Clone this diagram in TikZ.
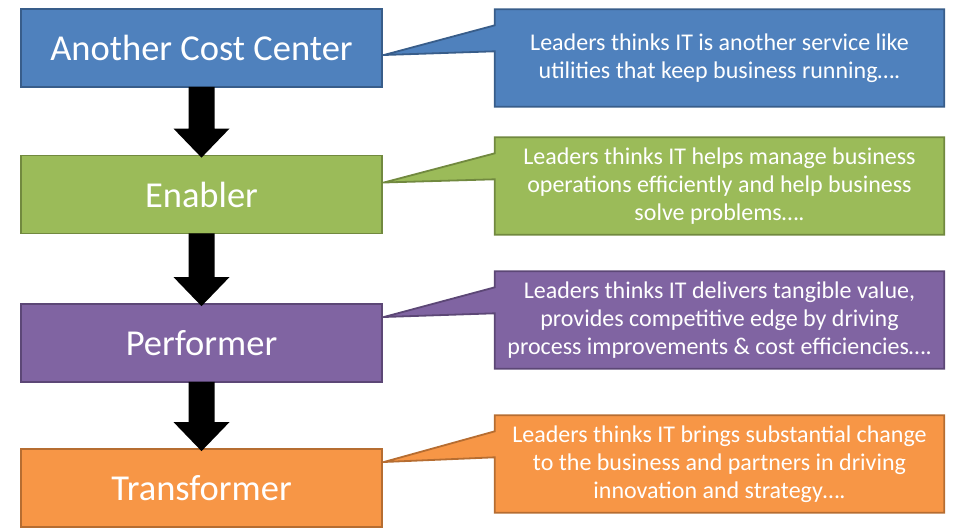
\documentclass[tikz,border=0pt]{standalone}
\usepackage{fontspec}
\setmainfont{Carlito}
\usetikzlibrary{calc,backgrounds}
\definecolor{cblue}{HTML}{4F81BD}\definecolor{dblue}{HTML}{385D8A}
\definecolor{cgreen}{HTML}{9BBB59}\definecolor{dgreen}{HTML}{71893F}
\definecolor{cpurple}{HTML}{8064A2}\definecolor{dpurple}{HTML}{5C4776}
\definecolor{corange}{HTML}{F79646}\definecolor{dorange}{HTML}{B66D31}
\tikzset{
  stage/.style={line width=1.8pt, minimum width=361pt, minimum height=78pt,
     inner sep=0pt, text=white, font=\fontsize{36.5}{40}\selectfont},
  callbody/.style={minimum width=449pt, minimum height=97pt, inner sep=0pt, text=white,
     align=center, font=\fontsize{24}{28}\selectfont},
  callshape/.style={line width=1.8pt, line join=miter},
  blockarrow/.style={fill=black},
}
\newcommand\stagearrow[2]{%
  \fill[blockarrow] ($(#1.south)+(-13,-1)$) -- ($(#2.north)+(-13,-26)$) -- ($(#2.north)+(-28,-26)$)
   -- ($(#2.north)+(0,3)$) -- ($(#2.north)+(28,-26)$) -- ($(#2.north)+(13,-26)$) -- ($(#1.south)+(13,-1)$) -- cycle;}
\newcommand\calloutfrom[4]{% callout node, stage node, tip offset, colours
  \begin{scope}[on background layer]
  \filldraw[callshape,#4] (#1.north west) -- (#1.north east) -- (#1.south east) -- (#1.south west)
    -- ($(#1.north west)+(0,42)$) -- ($(#2.east)+(1,#3)$) -- ($(#1.north west)+(0,16)$) -- cycle;
  \end{scope}}
\begin{document}
\begin{tikzpicture}[x=1pt,y=-1pt]
\useasboundingbox (0,0) rectangle (959,531);
\node[stage, fill=cblue, draw=dblue] (b1) at (201.5,48) {Another Cost Center};
\node[stage, fill=cgreen, draw=dgreen] (b2) at (201.5,194.5) {Enabler};
\node[stage, fill=cpurple, draw=dpurple] (b3) at (201.5,343) {Performer};
\node[stage, fill=corange, draw=dorange] (b4) at (201.5,488) {Transformer};
\stagearrow{b1}{b2}
\stagearrow{b2}{b3}
\stagearrow{b3}{b4}
\node[callbody] (c1) at (719.5,58) {Leaders thinks IT is another service like\\utilities that keep business running….};
\node[callbody] (c2) at (719.5,186) {Leaders thinks IT helps manage business\\operations efficiently and help business\\solve problems….};
\node[callbody] (c3) at (719.5,320) {Leaders thinks IT delivers tangible value,\\provides competitive edge by driving\\process improvements \& cost efficiencies….};
\node[callbody] (c4) at (719.5,464) {Leaders thinks IT brings substantial change\\to the business and partners in driving\\innovation and strategy….};
\calloutfrom{c1}{b1}{7}{fill=cblue,draw=dblue}
\calloutfrom{c2}{b2}{-12}{fill=cgreen,draw=dgreen}
\calloutfrom{c3}{b3}{-26}{fill=cpurple,draw=dpurple}
\calloutfrom{c4}{b4}{-26}{fill=corange,draw=dorange}
\end{tikzpicture}
\end{document}
